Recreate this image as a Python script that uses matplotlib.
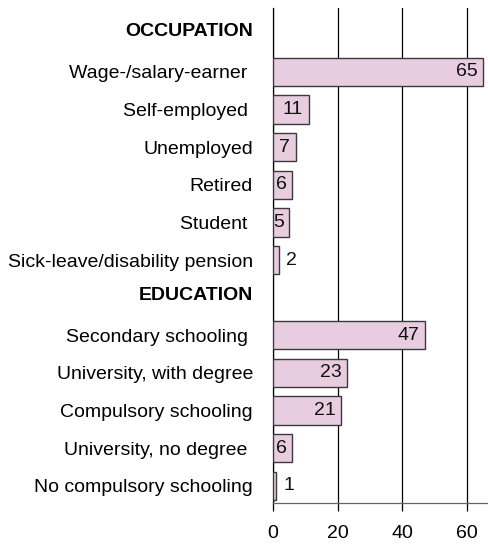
import matplotlib.pyplot as plt
import numpy as np

plt.rcParams['font.family'] = ['Liberation Sans', 'DejaVu Sans']

occupation_labels = ['Wage-/salary-earner ', 'Self-employed ', 'Unemployed',
                     'Retired', 'Student ', 'Sick-leave/disability pension']
occupation_values = [65, 11, 7, 6, 5, 2]

education_labels = ['Secondary schooling ', 'University, with degree',
                    'Compulsory schooling', 'University, no degree ',
                    'No compulsory schooling']
education_values = [47, 23, 21, 6, 1]

x_ticks = [0, 20, 40, 60]

BAR_COLOR = '#e8cde0'
EDGE_COLOR = '#3a3a3a'
FS = 14


def build_rows():
    """Header row followed by the group's bars, for each group"""
    labels, values, is_header = [], [], []
    for header, labs, vals in [('OCCUPATION', occupation_labels, occupation_values),
                               ('EDUCATION', education_labels, education_values)]:
        labels.append(header)
        values.append(None)
        is_header.append(True)
        labels.extend(labs)
        values.extend(vals)
        is_header.extend([False] * len(labs))
    return labels, values, is_header


labels, values, is_header = build_rows()
ypos = np.arange(len(labels))
# headers sit a little higher than their row
label_pos = [y - 0.12 if h else y for y, h in zip(ypos, is_header)]

fig = plt.figure(figsize=(4.89, 5.45), dpi=100)
ax = fig.add_axes([273 / 489, 1 - 503 / 545, 216 / 489, 495 / 545])

for y, v in zip(ypos, values):
    if v is None:
        continue
    ax.barh(y, v, height=0.75, color=BAR_COLOR, edgecolor=EDGE_COLOR,
            linewidth=1.0, zorder=3)
    if v > 2:
        ax.annotate(str(v), (v, y), xytext=(-4, 0), textcoords='offset points',
                    ha='right', va='center', fontsize=FS, color='#111111',
                    zorder=4)
    else:
        ax.annotate(str(v), (v, y), xytext=(5, 0), textcoords='offset points',
                    ha='left', va='center', fontsize=FS, color='#111111',
                    zorder=4)

ax.set_xlim(0, 66.8)
ax.set_ylim(12.46, -0.70)

ax.set_yticks(label_pos)
ax.set_yticklabels(labels, fontsize=FS)
for lab, hdr in zip(ax.get_yticklabels(), is_header):
    if hdr:
        lab.set_fontweight('bold')
ax.tick_params(axis='y', length=0, pad=14.4)

ax.set_xticks(x_ticks)
ax.tick_params(axis='x', labelsize=FS, length=6, width=0.9, pad=10,
               direction='out')

ax.xaxis.grid(True, color='#000000', linewidth=0.9, zorder=0)
ax.set_axisbelow(True)

for side in ['top', 'right']:
    ax.spines[side].set_visible(False)
ax.spines['left'].set_color('#000000')
ax.spines['left'].set_linewidth(0.9)
ax.spines['bottom'].set_color('#666666')
ax.spines['bottom'].set_linewidth(0.9)

plt.savefig('out.png', dpi=100)
plt.close()
